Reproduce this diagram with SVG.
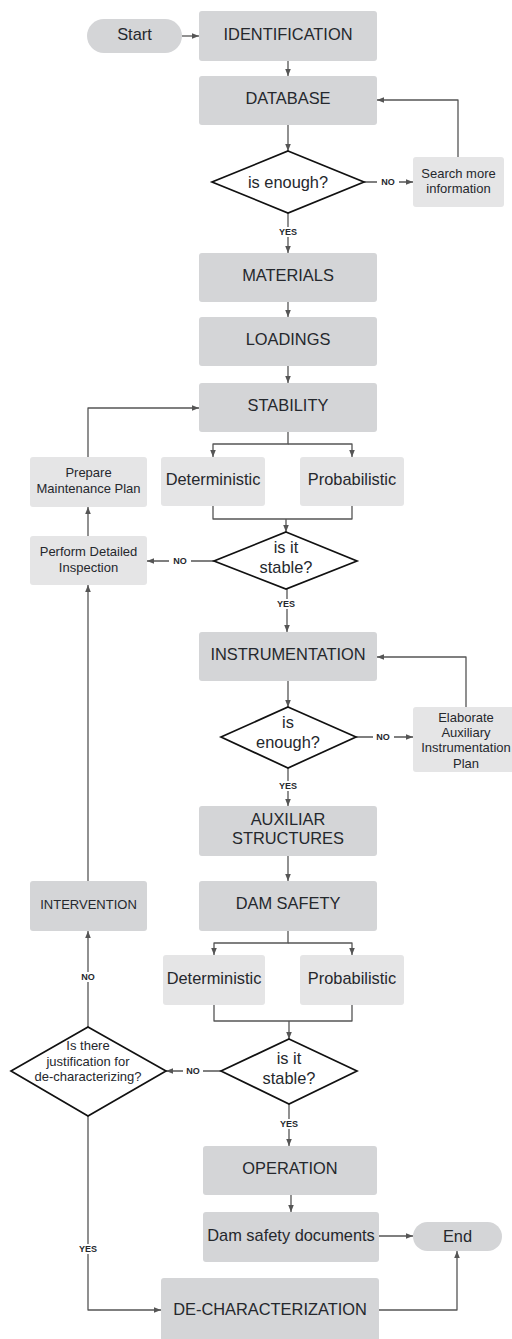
<svg xmlns="http://www.w3.org/2000/svg" width="512" height="1339" viewBox="0 0 512 1339">
<defs>
<style>
.main{fill:#d4d5d7;}
.sub{fill:#e5e5e6;}
.dia{fill:#ffffff;stroke:#111;stroke-width:1.7;stroke-linejoin:miter;}
.t{font-family:"Liberation Sans",Arial,sans-serif;fill:#25282d;text-anchor:middle;}
.big{font-size:16.4px;}
.small{font-size:13px;}
.lab{font-family:"Liberation Sans",Arial,sans-serif;font-size:9px;font-weight:bold;fill:#25282d;text-anchor:middle;}
.c{fill:none;stroke:#555;stroke-width:1.3;stroke-linejoin:round;}
.a{marker-end:url(#ah);}
.lbg{fill:#fff;}
</style>
<marker id="ah" viewBox="0 0 10 10" refX="10" refY="5" markerWidth="7" markerHeight="7" markerUnits="userSpaceOnUse" orient="auto">
<path d="M0,1 L10,5 L0,9 z" fill="#555"/>
</marker>
</defs>
<rect width="512" height="1339" fill="#fff"/>

<g id="connectors">
<path class="c a" d="M182 36 H199"/>
<path class="c a" d="M288 61 V76"/>
<path class="c a" d="M288 125 V151"/>
<path class="c a" d="M364 182 H413"/>
<path class="c a" d="M458 157 V100 H377"/>
<path class="c a" d="M288 213 V253"/>
<path class="c a" d="M288 302 V317"/>
<path class="c a" d="M288 366 V383"/>
<path class="c a" d="M288 432 V444 H213 V457"/>
<path class="c a" d="M288 444 H352 V457"/>
<path class="c" d="M213 506 V519 H352 V506"/>
<path class="c a" d="M286 519 V532"/>
<path class="c a" d="M214 561 H147"/>
<path class="c a" d="M88 536 V507"/>
<path class="c a" d="M88 457 V408 H199"/>
<path class="c a" d="M287 589 V632"/>
<path class="c a" d="M288 681 V707"/>
<path class="c a" d="M356 737 H413"/>
<path class="c a" d="M466 707 V657 H377"/>
<path class="c a" d="M288 768 V806"/>
<path class="c a" d="M288 856 V881"/>
<path class="c a" d="M288 931 V943 H214 V955"/>
<path class="c a" d="M288 943 H352 V955"/>
<path class="c" d="M214 1005 V1021 H352 V1005"/>
<path class="c a" d="M289 1021 V1039"/>
<path class="c a" d="M221 1071 H166"/>
<path class="c a" d="M88 1027 V931"/>
<path class="c a" d="M88 881 V585"/>
<path class="c a" d="M289 1104 V1146"/>
<path class="c a" d="M291 1195 V1212"/>
<path class="c a" d="M379 1236 H413"/>
<path class="c a" d="M88 1116 V1310 H161"/>
<path class="c a" d="M379 1310 H457 V1251"/>
<g id="edge-labels">
<rect class="lbg" x="377" y="177" width="22" height="10"/><text class="lab" x="388" y="185">NO</text>
<rect class="lbg" x="276" y="227" width="24" height="10"/><text class="lab" x="288" y="235">YES</text>
<rect class="lbg" x="169" y="556" width="22" height="10"/><text class="lab" x="180" y="564">NO</text>
<rect class="lbg" x="274" y="599" width="24" height="10"/><text class="lab" x="286" y="607">YES</text>
<rect class="lbg" x="373" y="732" width="21" height="10"/><text class="lab" x="383" y="740">NO</text>
<rect class="lbg" x="276" y="781" width="24" height="10"/><text class="lab" x="288" y="789">YES</text>
<rect class="lbg" x="183" y="1066" width="20" height="10"/><text class="lab" x="193" y="1074">NO</text>
<rect class="lbg" x="78" y="972" width="20" height="10"/><text class="lab" x="88" y="980">NO</text>
<rect class="lbg" x="277" y="1119" width="24" height="10"/><text class="lab" x="289" y="1127">YES</text>
<rect class="lbg" x="76" y="1244" width="24" height="10"/><text class="lab" x="88" y="1252">YES</text>
</g>
</g>

<g id="start"><rect class="main" x="87" y="19" width="95" height="34" rx="17"/><text class="t big" x="134.5" y="40">Start</text></g>
<g id="identification"><rect class="main" x="199" y="11" width="178" height="50" rx="3"/><text class="t big" x="288" y="40">IDENTIFICATION</text></g>
<g id="database"><rect class="main" x="199" y="76" width="178" height="49" rx="3"/><text class="t big" x="288" y="104">DATABASE</text></g>
<g id="enough1"><polygon class="dia" points="288,151 364,182 288,213 212,182"/><text class="t big" x="288" y="188">is enough?</text></g>
<g id="search"><rect class="sub" x="413" y="157" width="91" height="50" rx="3"/><text class="t small" x="458.5" y="178">Search more</text><text class="t small" x="458.5" y="193">information</text></g>
<g id="materials"><rect class="main" x="199" y="253" width="178" height="49" rx="3"/><text class="t big" x="288" y="281">MATERIALS</text></g>
<g id="loadings"><rect class="main" x="199" y="317" width="178" height="49" rx="3"/><text class="t big" x="288" y="345">LOADINGS</text></g>
<g id="stability"><rect class="main" x="199" y="383" width="178" height="49" rx="3"/><text class="t big" x="288" y="411">STABILITY</text></g>
<g id="det1"><rect class="sub" x="161" y="457" width="104" height="49" rx="3"/><text class="t big" x="213" y="485">Deterministic</text></g>
<g id="prob1"><rect class="sub" x="300" y="457" width="104" height="49" rx="3"/><text class="t big" x="352" y="485">Probabilistic</text></g>
<g id="prepare"><rect class="sub" x="30" y="457" width="117" height="50" rx="3"/><text class="t small" x="88.5" y="477">Prepare</text><text class="t small" x="88.5" y="493">Maintenance Plan</text></g>
<g id="stable1"><polygon class="dia" points="286,532 357,561 286,589 214,561"/><text class="t big" x="286" y="553">is it</text><text class="t big" x="286" y="573">stable?</text></g>
<g id="perform"><rect class="sub" x="30" y="536" width="117" height="49" rx="3"/><text class="t small" x="88.5" y="556">Perform Detailed</text><text class="t small" x="88.5" y="572">Inspection</text></g>
<g id="instrumentation"><rect class="main" x="199" y="632" width="178" height="49" rx="3"/><text class="t big" x="288" y="660">INSTRUMENTATION</text></g>
<g id="enough2"><polygon class="dia" points="288,707 356,737 288,768 221,737"/><text class="t big" x="288" y="728">is</text><text class="t big" x="288" y="748">enough?</text></g>
<g id="elaborate"><rect class="sub" x="413" y="707" width="103" height="65" rx="3"/><text class="t small" x="466" y="722">Elaborate</text><text class="t small" x="466" y="737">Auxiliary</text><text class="t small" x="466" y="752">Instrumentation</text><text class="t small" x="466" y="768">Plan</text></g>
<g id="auxiliar"><rect class="main" x="199" y="806" width="178" height="50" rx="3"/><text class="t big" x="288" y="825">AUXILIAR</text><text class="t big" x="288" y="844">STRUCTURES</text></g>
<g id="intervention"><rect class="main" x="30" y="881" width="117" height="50" rx="3"/><text class="t small" x="88.5" y="909">INTERVENTION</text></g>
<g id="damsafety"><rect class="main" x="199" y="881" width="178" height="50" rx="3"/><text class="t big" x="288" y="909">DAM SAFETY</text></g>
<g id="det2"><rect class="sub" x="163" y="955" width="102" height="50" rx="3"/><text class="t big" x="214" y="984">Deterministic</text></g>
<g id="prob2"><rect class="sub" x="300" y="955" width="104" height="50" rx="3"/><text class="t big" x="352" y="984">Probabilistic</text></g>
<g id="stable2"><polygon class="dia" points="289,1039 357,1071 289,1104 221,1071"/><text class="t big" x="289" y="1064">is it</text><text class="t big" x="289" y="1084">stable?</text></g>
<g id="justification"><polygon class="dia" points="88,1027 166,1071 88,1116 11,1071"/><text class="t small" x="88" y="1050">Is there</text><text class="t small" x="88" y="1066">justification for</text><text class="t small" x="88" y="1081">de-characterizing?</text></g>
<g id="operation"><rect class="main" x="203" y="1146" width="174" height="49" rx="3"/><text class="t big" x="290" y="1174">OPERATION</text></g>
<g id="documents"><rect class="main" x="203" y="1212" width="176" height="50" rx="3"/><text class="t big" x="291" y="1241">Dam safety documents</text></g>
<g id="end"><rect class="main" x="413" y="1222" width="89" height="29" rx="14.5"/><text class="t big" x="457.5" y="1242">End</text></g>
<g id="decharacterization"><rect class="main" x="161" y="1278" width="218" height="70" rx="3"/><text class="t big" x="270" y="1315">DE-CHARACTERIZATION</text></g>
</svg>
